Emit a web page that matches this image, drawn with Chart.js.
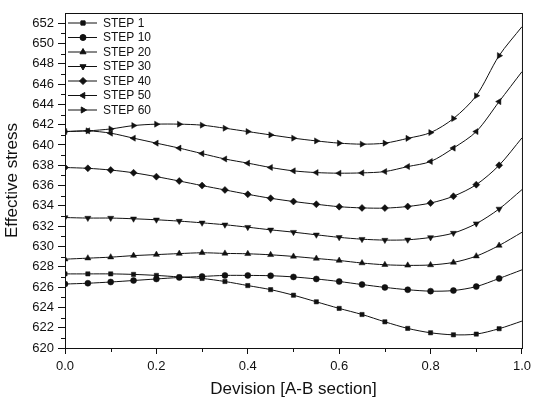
<!DOCTYPE html>
<html><head><meta charset="utf-8">
<script src="https://cdn.jsdelivr.net/npm/chart.js@4/dist/chart.umd.min.js"></script>
<style>html,body{margin:0;padding:0;background:#fff}#wrap{width:536px;height:400px}</style>
</head><body><div id="wrap"><canvas id="c" width="536" height="400"></canvas></div>
<script>
const divisions = [0, 0.05, 0.1, 0.15, 0.2, 0.25, 0.3, 0.35, 0.4, 0.45, 0.5, 0.55, 0.6, 0.65, 0.7, 0.75, 0.8, 0.85, 0.9, 0.95, 1.0];
const step1  = [627.3, 627.3, 627.3, 627.25, 627.15, 627.0, 626.85, 626.55, 626.15, 625.75, 625.2, 624.55, 623.9, 623.3, 622.58, 621.93, 621.5, 621.3, 621.37, 621.9, 622.65];
const step10 = [626.3, 626.38, 626.5, 626.65, 626.8, 626.95, 627.05, 627.15, 627.15, 627.12, 627.0, 626.8, 626.55, 626.25, 625.97, 625.74, 625.6, 625.66, 626.05, 626.85, 627.7];
const step20 = [628.75, 628.85, 628.95, 629.1, 629.2, 629.3, 629.38, 629.32, 629.28, 629.18, 629.02, 628.82, 628.62, 628.37, 628.2, 628.14, 628.18, 628.43, 629.05, 630.1, 631.4];
const step30 = [632.85, 632.8, 632.8, 632.73, 632.63, 632.5, 632.33, 632.14, 631.9, 631.64, 631.41, 631.15, 630.9, 630.72, 630.63, 630.66, 630.89, 631.32, 632.25, 633.7, 635.6];
const step40 = [637.78, 637.7, 637.53, 637.26, 636.88, 636.45, 636.0, 635.57, 635.14, 634.75, 634.43, 634.16, 633.92, 633.8, 633.78, 633.94, 634.28, 634.95, 636.09, 638.0, 640.7];
const step50 = [641.32, 641.39, 641.16, 640.67, 640.18, 639.69, 639.15, 638.62, 638.21, 637.78, 637.45, 637.28, 637.22, 637.25, 637.38, 637.87, 638.37, 639.69, 641.32, 644.27, 647.22];
const step60 = [641.32, 641.39, 641.58, 641.91, 642.05, 642.05, 641.95, 641.65, 641.32, 640.99, 640.67, 640.4, 640.18, 640.08, 640.18, 640.65, 641.22, 642.6, 644.85, 648.8, 651.65];
const seriesLabels = ['STEP 1', 'STEP 10', 'STEP 20', 'STEP 30', 'STEP 40', 'STEP 50', 'STEP 60'];
const seriesValues = [step1, step10, step20, step30, step40, step50, step60];
const markerStyles = ['rect', 'circle', 'triangle', 'triangle', 'rectRot', 'triangle', 'triangle'];
const markerRotations = [0, 0, 0, 180, 0, 270, 90];
const markerRadii = [3, 3, 3.5, 3.5, 3.5, 3.5, 3.5];
const xTitle = 'Devision [A-B section]';
const yTitle = 'Effective stress';
const yMin = 620, yMax = 653, xMin = 0, xMax = 1;

const ink = '#111';
const FONT = "'Liberation Sans', Arial, Helvetica, sans-serif";

const datasets = seriesLabels.map((lab, i) => ({
  label: lab,
  data: divisions.map((x, j) => ({x: x, y: seriesValues[i][j]})),
  borderColor: ink,
  backgroundColor: ink,
  borderWidth: 1,
  tension: 0.3,
  pointStyle: markerStyles[i],
  rotation: markerRotations[i],
  pointRadius: (c) => c.dataIndex === divisions.length - 1 ? 0 : markerRadii[i],
  pointBorderWidth: 0.5,
  pointBackgroundColor: ink,
  pointBorderColor: ink,
  fill: false
}));

const framePlugin = {
  id: 'frame',
  afterDraw(chart) {
    const {ctx, chartArea: a, scales} = chart;
    ctx.save();
    ctx.strokeStyle = ink;
    ctx.lineWidth = 1;
    ctx.strokeRect(a.left + 0.5, a.top + 0.5, a.right - a.left, a.bottom - a.top);
    // minor ticks
    ctx.beginPath();
    for (let v = yMin + 1; v < yMax; v += 2) {
      const py = Math.round(scales.y.getPixelForValue(v)) + 0.5;
      ctx.moveTo(a.left - 4, py); ctx.lineTo(a.left, py);
    }
    for (let k = 1; k < 10; k += 2) {
      const px = Math.round(scales.x.getPixelForValue(k / 10)) + 0.5;
      ctx.moveTo(px, a.bottom); ctx.lineTo(px, a.bottom + 4);
    }
    ctx.stroke();
    // legend
    const helpers = Chart.helpers;
    chart.data.datasets.forEach((ds, i) => {
      const y = a.top + 10 + i * 14.5;
      ctx.beginPath();
      ctx.strokeStyle = ink; ctx.lineWidth = 1;
      ctx.moveTo(a.left + 3, y); ctx.lineTo(a.left + 32, y);
      ctx.stroke();
      ctx.fillStyle = ink; ctx.strokeStyle = ink;
      helpers.drawPoint(ctx, {pointStyle: ds.pointStyle, rotation: ds.rotation, radius: markerRadii[i], borderWidth: 0.5}, a.left + 18, y);
      ctx.fillStyle = ink;
      ctx.font = '12px ' + FONT;
      ctx.textBaseline = 'middle';
      ctx.textAlign = 'left';
      ctx.fillText(ds.label, a.left + 38, y + 0.5);
    });
    ctx.restore();
  }
};

new Chart(document.getElementById('c'), {
  type: 'line',
  data: {datasets},
  options: {
    responsive: false,
    animation: false,
    devicePixelRatio: 1,
    layout: {padding: {top: 13, right: 10, left: 0, bottom: 0}},
    plugins: {legend: {display: false}, tooltip: {enabled: false}},
    scales: {
      x: {
        type: 'linear', min: xMin, max: xMax,
        ticks: {stepSize: 0.2, callback: (v) => Number(v).toFixed(1), color: ink, font: {family: FONT, size: 13}, padding: 5, maxRotation: 0},
        grid: {display: true, drawOnChartArea: false, drawTicks: true, tickLength: 6, color: ink, tickColor: ink},
        border: {display: true, color: ink, width: 1},
        title: {display: true, text: xTitle, color: ink, font: {family: FONT, size: 17}, padding: {top: 0, bottom: 0}},
        afterFit: (s) => { s.height = 52; }
      },
      y: {
        type: 'linear', min: yMin, max: yMax,
        ticks: {stepSize: 2, includeBounds: false, color: ink, font: {family: FONT, size: 13}, padding: 4},
        grid: {display: true, drawOnChartArea: false, drawTicks: true, tickLength: 7, color: ink, tickColor: ink},
        border: {display: true, color: ink, width: 1},
        title: {display: true, text: yTitle, color: ink, font: {family: FONT, size: 17}, padding: {top: 2, bottom: 0}},
        afterFit: (s) => { s.width = 65; }
      }
    }
  },
  plugins: [framePlugin]
});
</script></body></html>
